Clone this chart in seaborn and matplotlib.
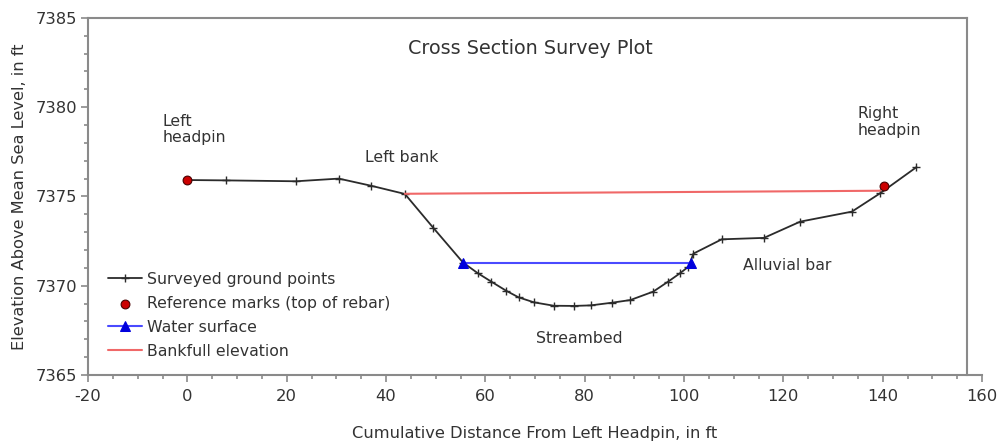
import matplotlib
matplotlib.use("Agg")
import matplotlib.pyplot as plt
import seaborn as sns
from matplotlib.ticker import MultipleLocator

# surveyed ground points (distance ft, elevation ft)
ground_x = [0, 7.7, 21.9, 30.5, 37.0, 43.8, 49.5, 55.5, 58.5, 61.2, 64.2, 66.7, 69.8,
            73.8, 77.8, 81.2, 85.5, 89.2, 93.8, 96.8, 99.2, 100.9, 101.9, 107.6,
            116.1, 123.4, 133.8, 139.5, 146.8]
ground_y = [7375.92, 7375.9, 7375.85, 7376.0, 7375.6, 7375.14, 7373.25, 7371.3, 7370.7,
            7370.23, 7369.72, 7369.35, 7369.07, 7368.88, 7368.87, 7368.9, 7369.05,
            7369.2, 7369.67, 7370.23, 7370.7, 7371.07, 7371.8, 7372.6, 7372.68,
            7373.59, 7374.15, 7375.18, 7376.64]

ref_x = [0, 140.3]
ref_y = [7375.92, 7375.59]

water_x = [55.5, 101.5]
water_y = [7371.3, 7371.3]

bank_x = [43.8, 139.5]
bank_y = [7375.15, 7375.32]

sns.set_style("white")
plt.rcParams['font.family'] = ['DejaVu Sans']
plt.rcParams['axes.unicode_minus'] = False
txt = '#333333'
grey = '#8a8a8a'
fs = 11.3

fig = plt.figure(figsize=(10, 4.47), dpi=100)
ax = fig.add_axes([0.088, 0.161, 0.894, 0.799])

sns.lineplot(x=ground_x, y=ground_y, sort=False, color='#2b2b2b', linewidth=1.3,
             marker='+', markersize=5.5, markeredgewidth=1.0, markeredgecolor='#2b2b2b',
             label='Surveyed ground points', ax=ax)
sns.scatterplot(x=ref_x, y=ref_y, color='#cc0000', edgecolor='#4a0000', linewidth=0.8,
                s=40, label='Reference marks (top of rebar)', ax=ax, zorder=5)
sns.lineplot(x=water_x, y=water_y, sort=False, color='#4a4aff', linewidth=1.5,
             marker='^', markersize=6.5, markerfacecolor='#0000dd', markeredgecolor='#0000dd',
             label='Water surface', ax=ax)
sns.lineplot(x=bank_x, y=bank_y, sort=False, color='#f06868', linewidth=1.5,
             label='Bankfull elevation', ax=ax)

ax.set_xlim(-20, 160)
ax.set_ylim(7365, 7385)
ax.xaxis.set_major_locator(MultipleLocator(20))
ax.xaxis.set_minor_locator(MultipleLocator(5))
ax.yaxis.set_major_locator(MultipleLocator(5))
ax.yaxis.set_minor_locator(MultipleLocator(1))
ax.tick_params(which='both', direction='out', color=grey, width=1.2)
ax.tick_params(which='major', length=5, labelsize=11.8, labelcolor=txt, pad=5)
ax.tick_params(axis='y', which='major', pad=3)
ax.tick_params(which='minor', length=3)
ax.tick_params(axis='y', which='both', left=True)
ax.tick_params(axis='x', which='both', bottom=True)

for sp in ax.spines.values():
    sp.set_color(grey)
    sp.set_linewidth(1.5)
ax.spines['right'].set_position(('data', 157))
ax.spines['top'].set_bounds(-20, 157)

ax.set_xlabel('Cumulative Distance From Left Headpin, in ft', fontsize=11.7, color=txt, labelpad=16)
ax.set_ylabel('Elevation Above Mean Sea Level, in ft', fontsize=11.7, color=txt, labelpad=6)

ax.text(69, 7383.3, 'Cross Section Survey Plot', fontsize=13.8, color=txt, ha='center', va='center')
ax.text(-5, 7378.75, 'Left\nheadpin', fontsize=fs, color=txt, ha='left', va='center', linespacing=1.15)
ax.text(35.7, 7377.2, 'Left bank', fontsize=fs, color=txt, ha='left', va='center')
ax.text(135, 7379.17, 'Right\nheadpin', fontsize=fs, color=txt, ha='left', va='center', linespacing=1.15)
ax.text(111.9, 7371.15, 'Alluvial bar', fontsize=fs, color=txt, ha='left', va='center')
ax.text(70.2, 7367.07, 'Streambed', fontsize=fs, color=txt, ha='left', va='center')

leg = ax.legend(loc='lower left', bbox_to_anchor=(0.022, 0.045), frameon=False, fontsize=fs,
                handlelength=2.2, handletextpad=0.3, labelspacing=0.58, borderaxespad=0,
                borderpad=0)
for t in leg.get_texts():
    t.set_color(txt)

fig.savefig('out.png', dpi=100)
